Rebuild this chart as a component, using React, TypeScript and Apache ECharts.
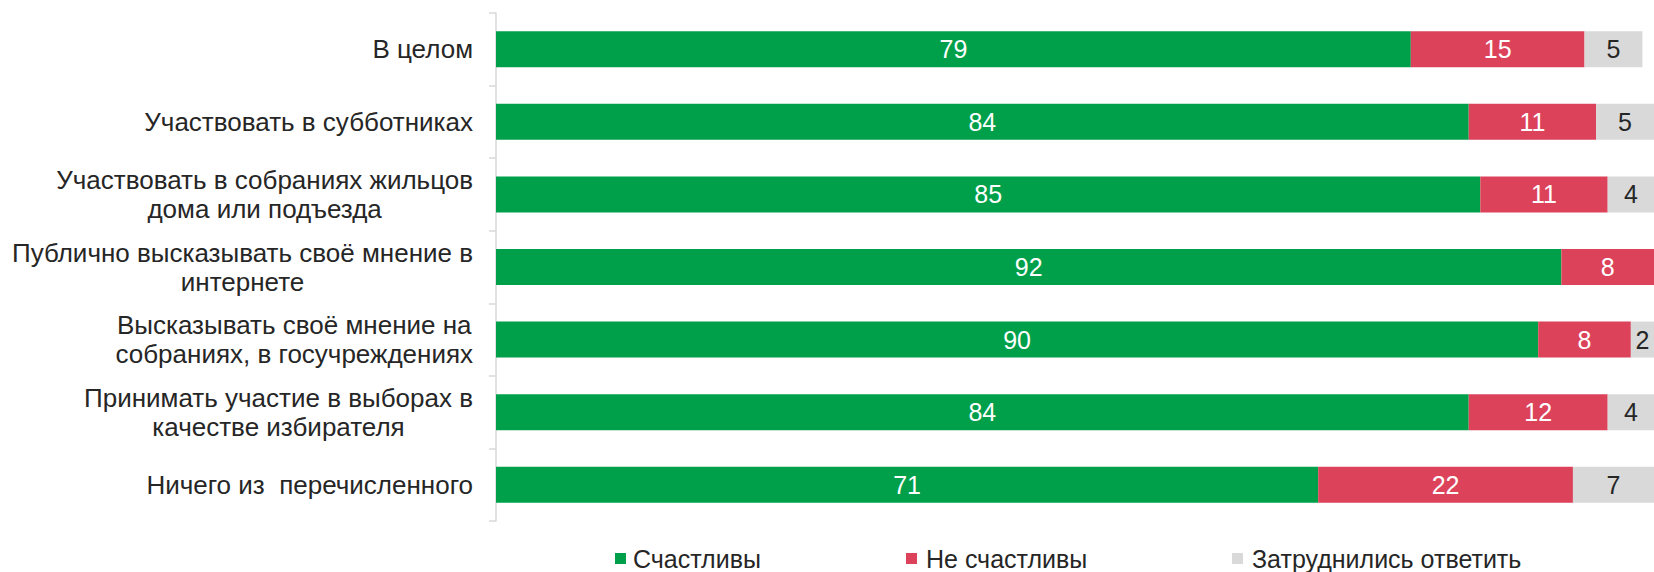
import React, { useEffect, useRef } from "react";
import * as echarts from "echarts";

const categories = [
  "В целом",
  "Участвовать в субботниках",
  "Участвовать в собраниях жильцов\nдома или подъезда",
  "Публично высказывать своё мнение в\nинтернете",
  "Высказывать своё мнение на\nсобраниях, в госучреждениях",
  "Принимать участие в выборах в\nкачестве избирателя",
  "Ничего из  перечисленного",
];
const happy = [79, 84, 85, 92, 90, 84, 71];
const unhappy = [15, 11, 11, 8, 8, 12, 22];
const unsure = [5, 5, 4, 0, 2, 4, 7];
const seriesNames = ["Счастливы", "Не счастливы", "Затруднились ответить"];
const colors = ["#00a04b", "#dc435b", "#d9d9d9"];
const legendLeft = [615, 906, 1232];

const FONT = "'Liberation Sans', Arial, sans-serif";
const TEXT = "#262626";

export default function App() {
  const ref = useRef<HTMLDivElement>(null);
  useEffect(() => {
    if (!ref.current) return;
    const chart = echarts.init(ref.current, null, { renderer: "svg" });
    const mkLabel = (color: string) => ({
      show: true,
      position: "inside",
      color,
      fontSize: 25,
      fontFamily: FONT,
      formatter: (p: any) => (p.value ? String(p.value) : ""),
    });
    const data = [happy, unhappy, unsure];
    chart.setOption({
      animation: false,
      backgroundColor: "#ffffff",
      color: colors,
      grid: { left: 496, top: 13, width: 1160, height: 508 },
      xAxis: {
        type: "value",
        min: 0,
        max: 100,
        show: false,
      },
      yAxis: {
        type: "category",
        data: categories,
        inverse: true,
        axisLine: { show: true, lineStyle: { color: "#d9d9d9", width: 1.5 } },
        axisTick: { show: true, length: 7, lineStyle: { color: "#d9d9d9", width: 1.5 } },
        axisLabel: {
          margin: 23,
          align: "right",
          formatter: (v: string) =>
            v
              .split("\n")
              .map((l) => `{c|${l}}`)
              .join("\n"),
          rich: {
            c: {
              align: "center",
              fontSize: 26,
              lineHeight: 29,
              color: TEXT,
              fontFamily: FONT,
            },
          },
        },
      },
      legend: seriesNames.map((name, i) => ({
        show: true,
        left: legendLeft[i],
        top: 546,
        padding: 0,
        icon: "rect",
        itemWidth: 11,
        itemHeight: 11,
        textStyle: {
          fontSize: 25,
          color: TEXT,
          fontFamily: FONT,
          padding: [0, 0, 0, i === 0 ? 2 : 4],
        },
        data: [name],
      })),
      series: seriesNames.map((name, i) => ({
        name,
        type: "bar",
        stack: "total",
        barWidth: 36,
        data: data[i],
        itemStyle: { color: colors[i] },
        label: mkLabel(i === 2 ? TEXT : "#ffffff"),
        emphasis: { disabled: true },
      })),
    });
    return () => chart.dispose();
  }, []);
  return (
    <div
      ref={ref}
      style={{ position: "fixed", left: 0, top: 0, width: 1654, height: 572 }}
    />
  );
}
